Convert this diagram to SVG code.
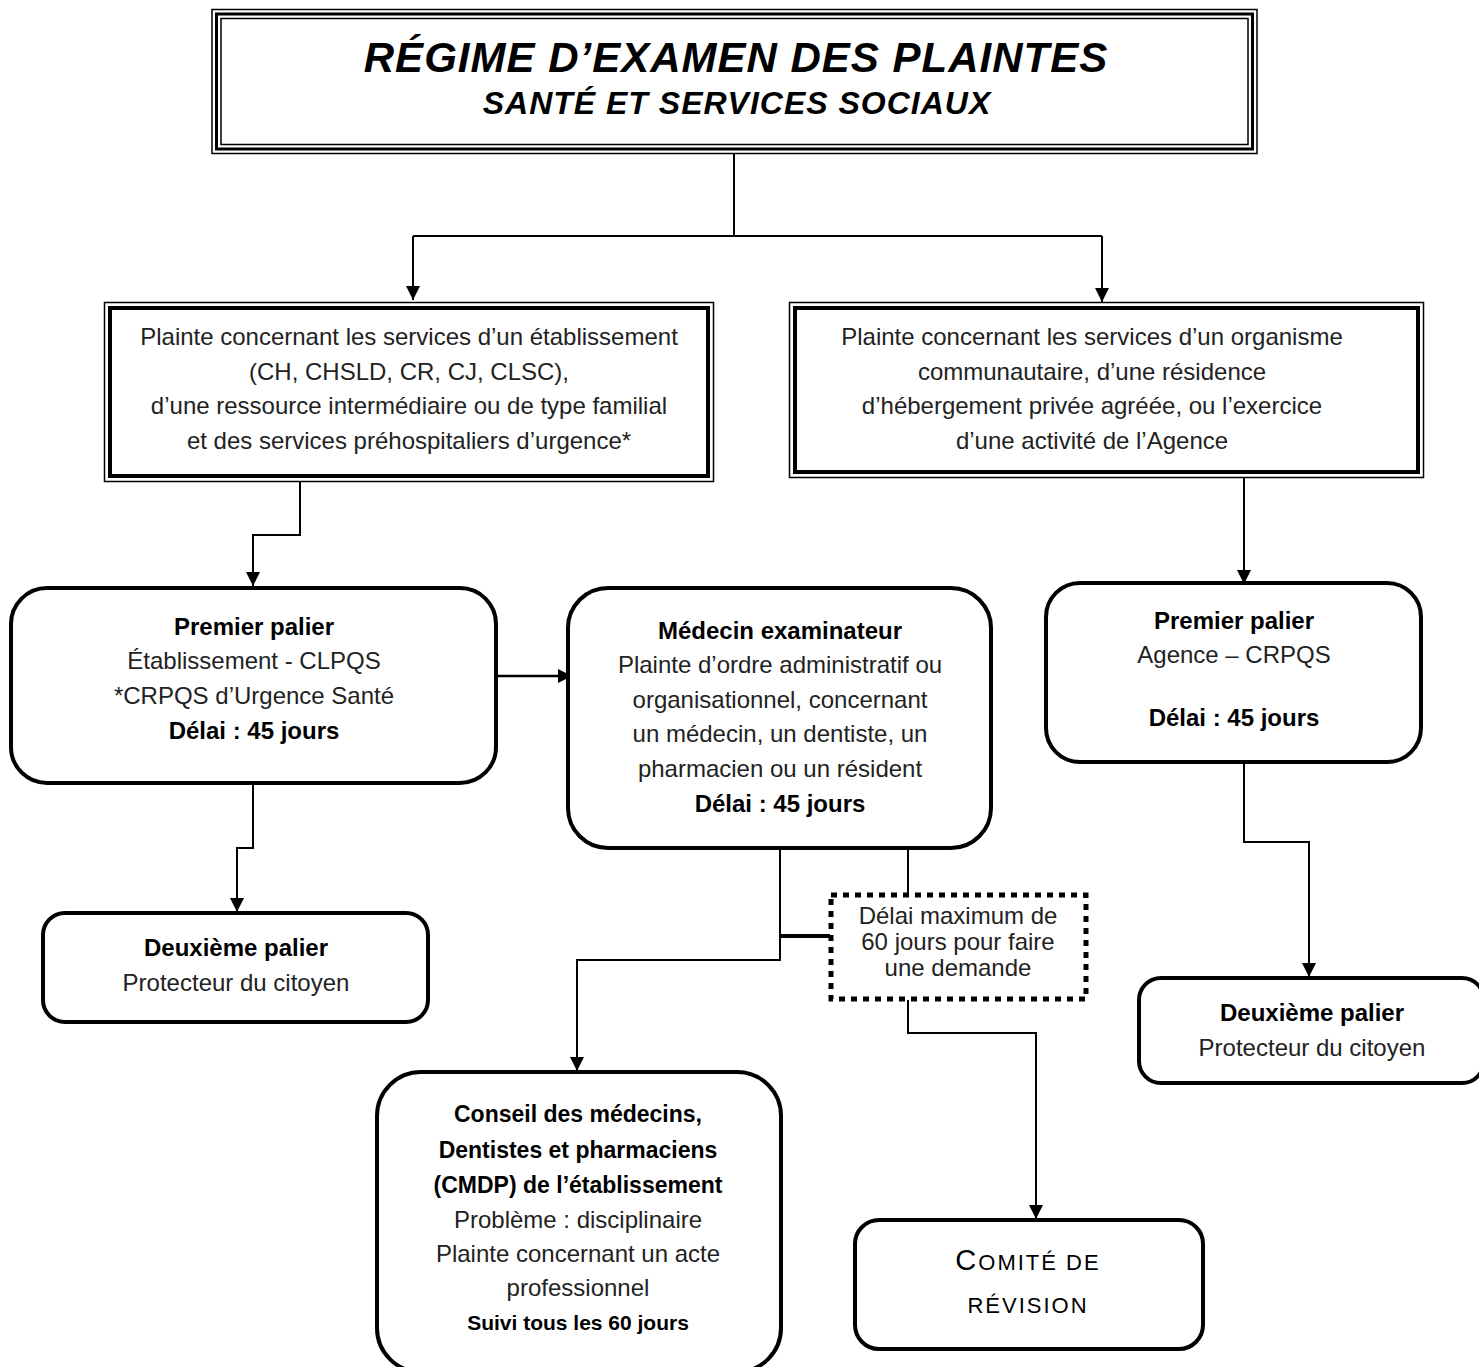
<svg xmlns="http://www.w3.org/2000/svg" width="1479" height="1367" viewBox="0 0 1479 1367">
<defs>
<style>
.t{font-family:"Liberation Sans",Arial,sans-serif;font-size:24px;fill:#222;text-anchor:middle}
.b{font-weight:bold;fill:#000}
.ttl{font-family:"Liberation Sans",Arial,sans-serif;font-style:italic;fill:#000;text-anchor:middle}
.box{fill:#fff;stroke:#000;stroke-width:4}
.ln{fill:none;stroke:#000;stroke-width:2}
.sc{font-family:"Liberation Sans",Arial,sans-serif;fill:#000;text-anchor:middle;letter-spacing:2px}
</style>
<marker id="ah2" viewBox="0 0 10 10" refX="10" refY="5" markerWidth="14" markerHeight="14" markerUnits="userSpaceOnUse" orient="auto">
<path d="M0,0 L10,5 L0,10 z" fill="#000"/>
</marker>
</defs>
<rect width="1479" height="1367" fill="#fff"/>

<g id="connectors">
<path class="ln" d="M734,154 V236"/>
<path class="ln" d="M413,236 H1102"/>
<path class="ln" d="M413,236 V300" marker-end="url(#ah2)"/>
<path class="ln" d="M1102,236 V302" marker-end="url(#ah2)"/>
<path class="ln" d="M300,482 V535 H253 V586" marker-end="url(#ah2)"/>
<path class="ln" d="M1244,478 V584" marker-end="url(#ah2)"/>
<path class="ln" d="M496,676 H572" marker-end="url(#ah2)" style="stroke-width:2.5"/>
<path class="ln" d="M253,783 V848 H237 V912" marker-end="url(#ah2)"/>
<path class="ln" d="M780,848 V960 H577 V1071" marker-end="url(#ah2)"/>
<path class="ln" d="M780,936 H830" style="stroke-width:4"/>
<path class="ln" d="M908,848 V893"/>
<path class="ln" d="M908,1000 V1033 H1036 V1219" marker-end="url(#ah2)"/>
<path class="ln" d="M1244,762 V842 H1309 V977" marker-end="url(#ah2)"/>
</g>

<g id="title">
<rect x="212" y="9.5" width="1045" height="144" fill="#fff" stroke="#000" stroke-width="1.5"/>
<rect x="216.5" y="14" width="1036" height="135" fill="none" stroke="#000" stroke-width="3"/>
<rect x="221" y="18.5" width="1027" height="126" fill="none" stroke="#000" stroke-width="1.5"/>
<text class="ttl" x="736" y="72" font-size="42" font-weight="bold" letter-spacing="1">RÉGIME D’EXAMEN DES PLAINTES</text>
<text class="ttl" x="737" y="114" font-size="32" font-weight="bold" letter-spacing="1">SANTÉ ET SERVICES SOCIAUX</text>
</g>

<g id="plainte-etab">
<rect x="104.5" y="302.5" width="609" height="179" fill="#fff" stroke="#000" stroke-width="1.5"/>
<rect x="110" y="308" width="598" height="168" fill="none" stroke="#000" stroke-width="4"/>
<text class="t" x="409" y="345">Plainte concernant les services d’un établissement</text>
<text class="t" x="409" y="380">(CH, CHSLD, CR, CJ, CLSC),</text>
<text class="t" x="409" y="414">d’une ressource intermédiaire ou de type familial</text>
<text class="t" x="409" y="449">et  des services préhospitaliers d’urgence*</text>
</g>

<g id="plainte-org">
<rect x="789.5" y="302.5" width="634" height="175" fill="#fff" stroke="#000" stroke-width="1.5"/>
<rect x="795" y="308" width="623" height="164" fill="none" stroke="#000" stroke-width="4"/>
<text class="t" x="1092" y="345">Plainte concernant les services d’un organisme</text>
<text class="t" x="1092" y="380">communautaire, d’une résidence</text>
<text class="t" x="1092" y="414">d’hébergement privée agréée, ou l’exercice</text>
<text class="t" x="1092" y="449">d’une activité de l’Agence</text>
</g>

<g id="premier-etab">
<rect class="box" x="11" y="588" width="485" height="195" rx="36"/>
<text class="t b" x="254" y="635">Premier palier</text>
<text class="t" x="254" y="669">Établissement - CLPQS</text>
<text class="t" x="254" y="704">*CRPQS d’Urgence Santé</text>
<text class="t b" x="254" y="739">Délai : 45 jours</text>
</g>

<g id="medecin">
<rect class="box" x="568" y="588" width="423" height="260" rx="40"/>
<text class="t b" x="780" y="639">Médecin examinateur</text>
<text class="t" x="780" y="673">Plainte d’ordre administratif ou</text>
<text class="t" x="780" y="708">organisationnel, concernant</text>
<text class="t" x="780" y="742">un médecin, un dentiste, un</text>
<text class="t" x="780" y="777">pharmacien ou un résident</text>
<text class="t b" x="780" y="812">Délai : 45 jours</text>
</g>

<g id="premier-agence">
<rect class="box" x="1046" y="583" width="375" height="179" rx="34"/>
<text class="t b" x="1234" y="629">Premier palier</text>
<text class="t" x="1234" y="663">Agence – CRPQS</text>
<text class="t b" x="1234" y="726">Délai : 45 jours</text>
</g>

<g id="deuxieme-gauche">
<rect class="box" x="43" y="913" width="385" height="109" rx="22"/>
<text class="t b" x="236" y="956">Deuxième palier</text>
<text class="t" x="236" y="991">Protecteur du citoyen</text>
</g>

<g id="delai-60">
<rect x="831" y="895" width="255" height="104" fill="#fff" stroke="#000" stroke-width="5" stroke-dasharray="6,6"/>
<text class="t" x="958" y="924">Délai maximum de</text>
<text class="t" x="958" y="950">60 jours pour faire</text>
<text class="t" x="958" y="976">une demande</text>
</g>

<g id="deuxieme-droite">
<rect class="box" x="1139" y="978" width="345" height="105" rx="22"/>
<text class="t b" x="1312" y="1021">Deuxième palier</text>
<text class="t" x="1312" y="1056">Protecteur du citoyen</text>
</g>

<g id="cmdp">
<rect class="box" x="377" y="1072" width="404" height="300" rx="44"/>
<text class="t b" x="578" y="1122" style="font-size:23px">Conseil des médecins,</text>
<text class="t b" x="578" y="1158" style="font-size:23px">Dentistes et pharmaciens</text>
<text class="t b" x="578" y="1193" style="font-size:23px">(CMDP) de l’établissement</text>
<text class="t" x="578" y="1228">Problème : disciplinaire</text>
<text class="t" x="578" y="1262">Plainte concernant un acte</text>
<text class="t" x="578" y="1296">professionnel</text>
<text class="t b" x="578" y="1330" style="font-size:21px">Suivi tous les 60 jours</text>
</g>

<g id="comite">
<rect class="box" x="855" y="1220" width="348" height="129" rx="24"/>
<text class="sc" x="1028" y="1270"><tspan font-size="29">C</tspan><tspan font-size="22">OMITÉ DE</tspan></text>
<text class="sc" x="1028" y="1313" font-size="22">RÉVISION</text>
</g>
</svg>
